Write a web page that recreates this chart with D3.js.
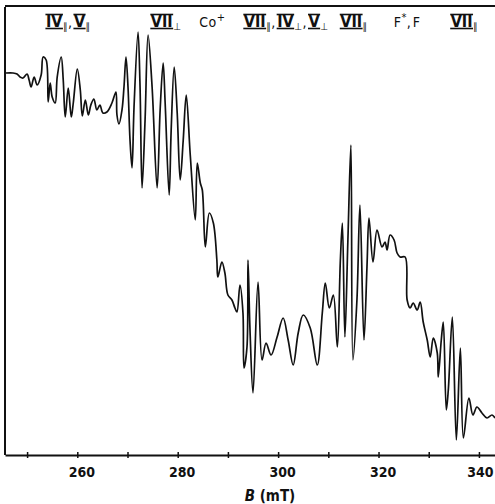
<!DOCTYPE html>
<html>
<head>
<meta charset="utf-8">
<script src="https://cdn.jsdelivr.net/npm/d3@7"></script>
<style>
  body { margin: 0; background: #fff; }
  svg { display: block; }
  .trace { fill: none; stroke: #111; stroke-width: 1.7; stroke-linejoin: round; }
  .frame { stroke: #111; stroke-width: 2; fill: none; }
  .tick-label { font-family: "DejaVu Sans", sans-serif; font-stretch: condensed; font-weight: bold; font-size: 14px; fill: #111; }
  .peak { font-family: "DejaVu Sans", sans-serif; font-stretch: condensed; fill: #111; }
</style>
</head>
<body>
<div id="chart"></div>
<script>
// field (mT) and EPR signal (arbitrary units)
const field = [
  245.8, 247.2, 248.0, 248.6, 249.2, 250.0, 250.4, 250.8, 251.4, 252.0,
  252.8, 253.2, 253.8, 254.2, 254.6, 255.0, 255.6, 256.0, 256.8, 257.2,
  257.6, 258.2, 258.8, 259.2, 260.0, 260.6, 261.0, 261.6, 262.2, 262.7,
  263.3, 263.9, 264.5, 265.1, 265.9, 266.9, 267.7, 267.9, 268.3, 268.9,
  269.3, 269.7, 270.1, 270.5, 270.9, 271.3, 272.1, 272.5, 272.9, 273.5,
  274.1, 274.9, 275.9, 276.5, 277.1, 277.5, 278.3, 278.7, 279.3, 279.9,
  280.5, 281.1, 281.7, 282.5, 283.5, 283.9, 284.5, 284.9, 285.5, 286.3,
  287.1, 287.8, 288.0, 288.8, 289.4, 290.0, 290.8, 291.4, 291.8, 292.4,
  293.0, 293.2, 293.8, 294.0, 294.4, 295.0, 296.0, 296.8, 297.6, 298.6,
  299.8, 301.0, 302.0, 303.0, 304.0, 305.0, 306.4, 307.8, 308.8, 309.4,
  310.2, 311.0, 311.8, 312.4, 312.8, 313.3, 313.9, 314.5, 314.9, 315.7,
  316.3, 317.1, 317.7, 318.1, 318.9, 319.7, 320.7, 321.3, 321.7, 322.3,
  323.1, 323.7, 324.3, 325.3, 325.7, 326.3, 326.9, 327.7, 328.3, 328.9,
  329.7, 330.3, 330.9, 331.7, 331.9, 332.5, 332.9, 333.5, 333.9, 334.7,
  335.5, 336.3, 336.9, 338.0, 338.8, 339.6, 340.6, 341.6, 342.6, 343.2
]
const signal = [
  382, 382, 381, 378, 377, 381, 375, 368, 378, 370,
  380, 398, 395, 353, 372, 358, 352, 378, 398, 375,
  338, 367, 338, 352, 386, 365, 339, 355, 340, 350,
  356, 345, 350, 342, 343, 352, 363, 340, 331, 345,
  368, 398, 368, 315, 287, 348, 423, 368, 267, 335,
  420, 368, 267, 345, 392, 352, 260, 325, 388, 342,
  275, 315, 360, 300, 235, 292, 272, 265, 208, 242,
  232, 195, 178, 193, 182, 160, 155, 147, 143, 170,
  142, 87, 108, 195, 125, 62, 173, 95, 112, 100,
  118, 137, 115, 90, 122, 140, 127, 90, 142, 172,
  147, 160, 108, 195, 232, 118, 215, 310, 95, 155,
  250, 115, 188, 237, 193, 225, 208, 213, 205, 220,
  215, 202, 198, 198, 155, 147, 152, 145, 153, 133,
  115, 98, 117, 102, 78, 115, 133, 45, 65, 138,
  15, 107, 17, 57, 40, 48, 42, 37, 40, 37
]

const tickValues = [250, 260, 270, 280, 290, 300, 310, 320, 330, 340]
const tickLabels = [260, 280, 300, 320, 340]

// line assignments along the top: {..} barred numeral, _ subscript, ^ superscript
const peakB = [258.2, 277.7, 286.9, 301.6, 315.1, 325.7, 337.1]
const peakText = ['{IV}_∥,{V}_∥', '{VII}_⊥', 'Co^+', '{VII}_∥,{IV}_⊥,{V}_⊥', '{VII}_∥', 'F^*,F', '{VII}_∥']

const width = 495
const height = 504

const x = d3.scaleLinear().domain([245.6, 343.2]).range([5, 495])
const y = d3.scaleLinear().domain([0, 447]).range([455, 8])

const svg = d3.select('#chart')
  .append('svg')
  .attr('width', width)
  .attr('height', height)

// frame: left and top rule
svg.append('line').attr('class', 'frame')
  .attr('x1', 5).attr('x2', 5).attr('y1', 7).attr('y2', 455)
svg.append('line').attr('class', 'frame')
  .attr('x1', 5).attr('x2', 495).attr('y1', 6).attr('y2', 6)

const axis = svg.append('g')
  .attr('transform', `translate(0,${y(0)})`)
  .call(d3.axisBottom(x)
    .tickValues(tickValues)
    .tickSizeOuter(0)
    .tickFormat(d => tickLabels.includes(d) ? d : ''))

axis.select('.domain').attr('stroke', '#111').attr('stroke-width', 2)
axis.selectAll('.tick line').attr('y1', -3).attr('y2', 3).attr('stroke', '#111').attr('stroke-width', 1.5)
axis.selectAll('.tick text')
  .attr('class', 'tick-label')
  .attr('y', 22).attr('dy', 0).attr('dx', d => d === 340 ? 1 : 4)
  .attr('font-family', null).attr('font-size', null)

const title = svg.append('text')
  .attr('class', 'tick-label')
  .attr('x', 270).attr('y', 501)
  .attr('text-anchor', 'middle')
  .style('font-size', '15px')
title.append('tspan').attr('font-style', 'italic').text('B')
title.append('tspan').text('  (mT)')

const line = d3.line()
  .x((d, i) => x(field[i]))
  .y(d => y(d))
  .curve(d3.curveCatmullRom.alpha(0.5))

svg.append('path')
  .datum(signal)
  .attr('class', 'trace')
  .attr('d', line)

function parseLabel (s) {
  const segs = []
  for (let i = 0; i < s.length; i++) {
    const c = s[i]
    if (c === '{') {
      const j = s.indexOf('}', i)
      segs.push({t: s.slice(i + 1, j), kind: 'bar'})
      i = j
    } else if (c === '_') {
      segs.push({t: s[++i], kind: 'sub'})
    } else if (c === '^') {
      segs.push({t: s[++i], kind: 'sup'})
    } else {
      segs.push({t: c, kind: 'plain'})
    }
  }
  return segs
}

const sizes = {bar: 16, plain: 14, sub: 10, sup: 11}
const shifts = {bar: 0, plain: 0, sub: 3, sup: -6}

peakText.forEach((label, k) => {
  const g = svg.append('g').attr('transform', `translate(${x(peakB[k])},27)`)
  const inner = g.append('g')
  let cx = 0
  parseLabel(label).forEach(seg => {
    const t = inner.append('text')
      .attr('class', 'peak')
      .attr('x', cx)
      .attr('y', shifts[seg.kind])
      .style('font-size', sizes[seg.kind] + 'px')
      .style('font-weight', seg.kind === 'bar' ? 'bold' : 'normal')
      .text(seg.t)
    const w = t.node().getComputedTextLength()
    if (seg.kind === 'bar') {
      inner.append('line').attr('x1', cx - 0.5).attr('x2', cx + w + 0.5)
        .attr('y1', -12.5).attr('y2', -12.5).attr('stroke', '#111').attr('stroke-width', 1.6)
      inner.append('line').attr('x1', cx - 0.5).attr('x2', cx + w + 0.5)
        .attr('y1', 1.5).attr('y2', 1.5).attr('stroke', '#111').attr('stroke-width', 1.6)
    }
    cx += w + (seg.t === ',' ? 2 : 0.5)
  })
  inner.attr('transform', `translate(${-cx / 2},0)`)
})
</script>
</body>
</html>
